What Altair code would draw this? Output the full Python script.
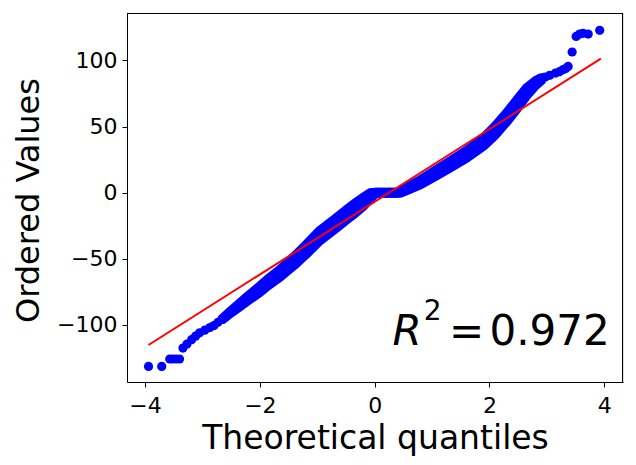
import altair as alt
import pandas as pd

# ---- data ----
# lower tail (single visible markers)
tail_lo_x = [-3.94, -3.71, -3.57, -3.52, -3.46, -3.40, -3.34, -3.27, -3.19, -3.12,
             -3.05, -2.96, -2.87, -2.80, -2.73, -2.65]
tail_lo_y = [-131.4, -131.4, -125.8, -125.8, -125.8, -125.8, -117.5, -114.5, -111.2, -108.5,
             -106.0, -104.0, -102.0, -100.5, -98.0, -95.5]

# dense middle part: lowest and highest ordered values seen at each quantile
band_x = [-2.65, -2.50, -2.33, -2.20, -2.00, -1.85, -1.65, -1.40, -1.20, -0.96,
          -0.70, -0.50, -0.35, -0.20, -0.08, 0.02, 0.39, 0.45, 0.60, 0.80,
          1.05, 1.30, 1.60, 1.90, 2.10, 2.30, 2.50, 2.65, 2.80, 2.90]
band_lo = [-95.5, -90.5, -85.2, -81.2, -75.0, -69.7, -63.5, -54.5, -46.5, -36.2,
           -27.5, -20.5, -15.5, -10.0, -4.5, 0, 0, 0, 2.75, 6.5,
           12.5, 18.75, 26.5, 35.75, 44.0, 54.0, 65.0, 74.0, 81.25, 85.0]
band_hi = [-95.5, -89.5, -83.2, -78.2, -71.0, -65.2, -58.5, -48.5, -40.0, -29.2,
           -20.5, -13.5, -8.5, -4.0, -0.5, 0, 0, 1.0, 4.75, 9.5,
           16.5, 23.25, 31.5, 41.25, 50.0, 60.0, 71.0, 79.0, 84.25, 86.5]

# upper tail (single visible markers)
tail_hi_x = [2.90, 2.97, 3.05, 3.15, 3.22, 3.28, 3.33, 3.37, 3.44, 3.51, 3.57, 3.63, 3.72, 3.92]
tail_hi_y = [86.5, 87.5, 88.8, 90.5, 91.5, 93.0, 94.0, 95.5, 106.4, 118.2, 120.0, 120.5, 120.0, 122.8]

# least-squares fit line end points
fit_x = [-3.94, 3.94]
fit_y = [-115.2, 101.4]

x_ticks = [-4, -2, 0, 2, 4]
y_ticks = [-100, -50, 0, 50, 100]
x_domain = [-4.315, 4.326]
y_domain = [-143.2, 135.9]

r2_text = "0.972"
ann_x = [4.094]
ann_y = [-115.0]

BLUE = "#0000ff"
RED = "#ff0000"
FONT = "DejaVu Sans"
W, H = 496, 369

tails = pd.DataFrame({"x": tail_lo_x + tail_hi_x, "y": tail_lo_y + tail_hi_y})
band = pd.DataFrame({"x": band_x, "lo": band_lo, "hi": band_hi})
fit = pd.DataFrame({"x": fit_x, "y": fit_y})
ann = pd.DataFrame({"x": ann_x, "y": ann_y})

xs = alt.Scale(domain=x_domain, nice=False, zero=False)
ys = alt.Scale(domain=y_domain, nice=False, zero=False)

x_axis = alt.Axis(values=x_ticks, title="Theoretical quantiles", grid=False,
                  tickSize=5, tickColor="black", domainColor="black",
                  labelFont=FONT, labelFontSize=22, labelColor="black", labelPadding=8,
                  titleFont=FONT, titleFontSize=33, titleFontWeight="normal", titleColor="black",
                  titleX=248, titleY=66, titleBaseline="alphabetic", titleAlign="center")
y_axis = alt.Axis(values=y_ticks, title="Ordered Values", grid=False,
                  tickSize=5, tickColor="black", domainColor="black",
                  labelFont=FONT, labelFontSize=22, labelColor="black", labelPadding=5,
                  titleFont=FONT, titleFontSize=32, titleFontWeight="normal", titleColor="black",
                  titleX=-89, titleY=187, titleBaseline="alphabetic", titleAlign="center",
                  titleAngle=270)

X = alt.X("x:Q", scale=xs, axis=x_axis)
Y = alt.Y("y:Q", scale=ys, axis=y_axis)
YLO = alt.Y("lo:Q", scale=ys, axis=y_axis)
YHI = alt.Y("hi:Q", scale=ys, axis=y_axis)

area = alt.Chart(band).mark_area(color=BLUE, opacity=1, interpolate="linear").encode(
    x=X, y=YLO, y2="hi:Q")
lo_line = alt.Chart(band).mark_line(color=BLUE, strokeWidth=10, strokeCap="round",
                                    strokeJoin="round").encode(x=X, y=YLO)
hi_line = alt.Chart(band).mark_line(color=BLUE, strokeWidth=10, strokeCap="round",
                                    strokeJoin="round").encode(x=X, y=YHI)
pts = alt.Chart(tails).mark_circle(color=BLUE, opacity=1, size=85).encode(x=X, y=Y)
fit_line = alt.Chart(fit).mark_line(color=RED, strokeWidth=2).encode(x=X, y=Y)

val = alt.Chart(ann).mark_text(text=r2_text, font=FONT, fontSize=42, align="right",
                               baseline="alphabetic", color="black").encode(x=X, y=Y)
eq = alt.Chart(ann).mark_text(text="=", font=FONT, fontSize=42, align="center",
                              baseline="alphabetic", dx=-143, color="black").encode(x=X, y=Y)
sup = alt.Chart(ann).mark_text(text="2", font=FONT, fontSize=28, align="center",
                               baseline="alphabetic", dx=-177, dy=-25, color="black").encode(x=X, y=Y)
rr = alt.Chart(ann).mark_text(text="R", font=FONT, fontSize=42, fontStyle="italic", align="right",
                              baseline="alphabetic", dx=-188, color="black").encode(x=X, y=Y)

# crisp top and right frame lines (left/bottom come from the axis domains)
top_rule = alt.Chart(ann).mark_rule(color="black", strokeWidth=1).encode(
    x=alt.value(0), x2=alt.value(W), y=alt.value(0.5))
right_rule = alt.Chart(ann).mark_rule(color="black", strokeWidth=1).encode(
    x=alt.value(W - 0.5), y=alt.value(0), y2=alt.value(H))

chart = alt.layer(area, lo_line, hi_line, pts, fit_line, val, eq, sup, rr,
                  top_rule, right_rule).properties(
    width=W, height=H,
    autosize=alt.AutoSizeParams(type="none"),
    padding={"left": 119, "top": 5, "right": 5, "bottom": 75},
).configure_view(strokeWidth=0).configure(background="white")

chart.save("out.html", embed_options={"renderer": "svg", "actions": False})
